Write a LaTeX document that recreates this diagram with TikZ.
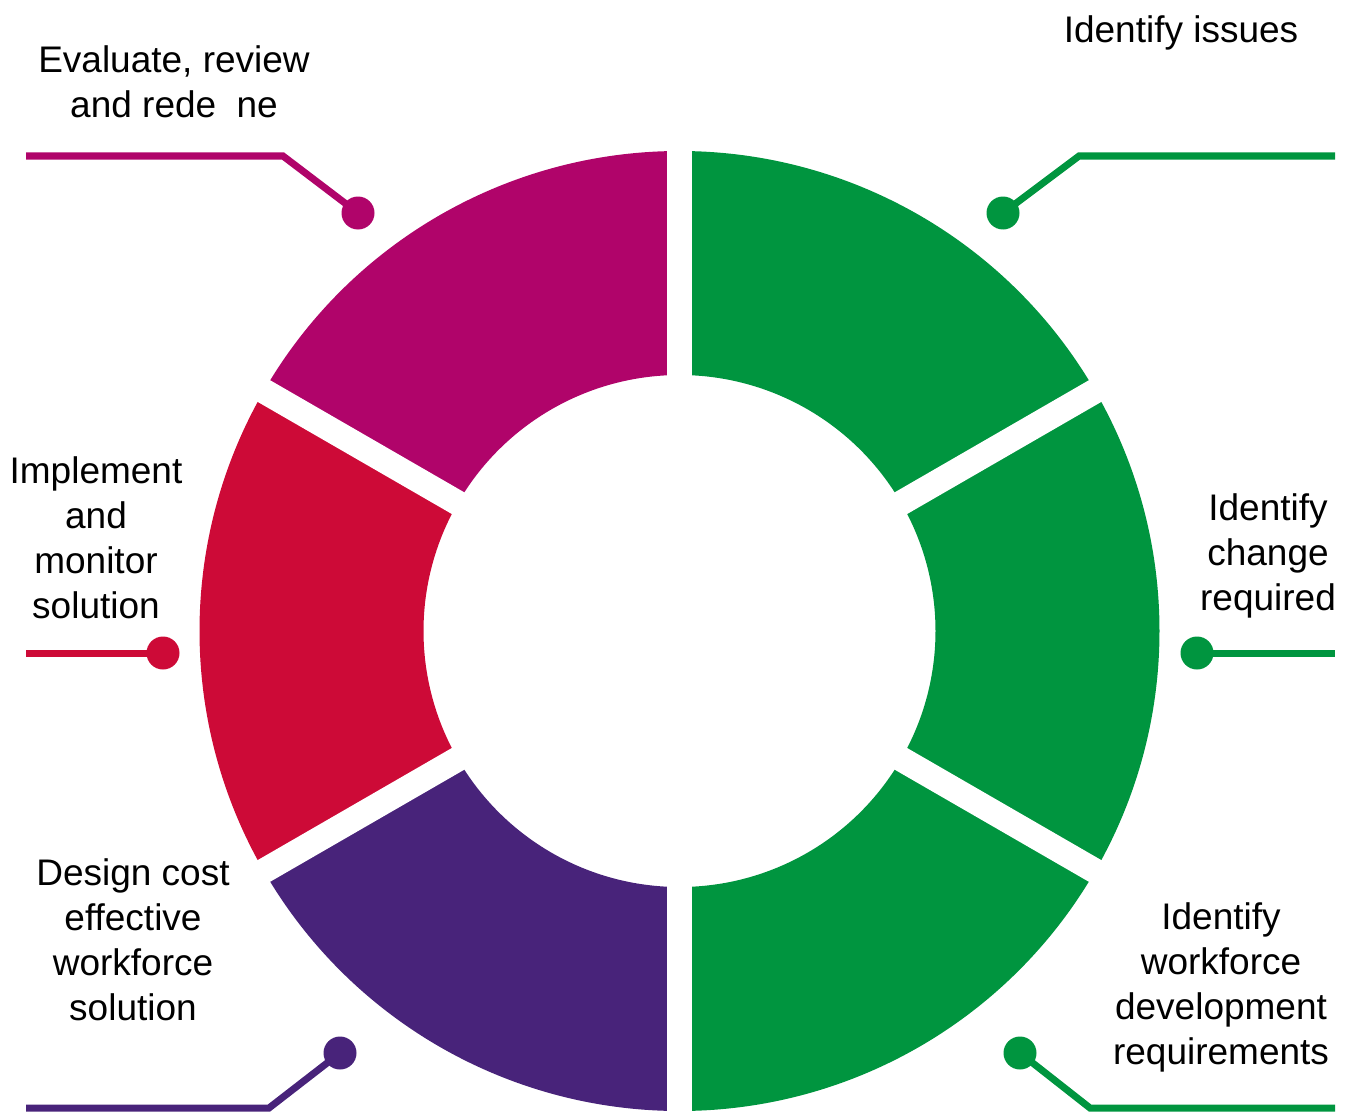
\documentclass[tikz,border=0pt]{standalone}
\usepackage{fontspec}
\setmainfont{Liberation Sans}
\usetikzlibrary{calc}
\definecolor{cgreen}{HTML}{00953F}
\definecolor{cmagenta}{HTML}{B0046A}
\definecolor{cred}{HTML}{CD0A37}
\definecolor{cpurple}{HTML}{48237A}
\tikzset{
  lbl/.style={font=\fontsize{37}{45}\selectfont, align=center, inner sep=0pt, text=black},
  dotnode/.style={circle, fill=#1, minimum size=33pt, inner sep=0pt},
  conn/.style={draw=#1, line width=7pt},
}
\newcommand{\ringseg}[3]{%
  \fill[#1] ($(C)+(#2:480)$) arc[start angle=#2, end angle=#3, radius=480]
    -- ($(C)+(#3:256)$) arc[start angle=#3, end angle=#2, radius=256] -- cycle;}
\begin{document}
\begin{tikzpicture}[x=1pt, y=-1pt]
\useasboundingbox (0,0) rectangle (1349,1113);
\coordinate (C) at (679.5,631);
% ring segments (image angles, clockwise)
\ringseg{cgreen}{-90}{-30}
\ringseg{cgreen}{-30}{30}
\ringseg{cgreen}{30}{90}
\ringseg{cpurple}{90}{150}
\ringseg{cred}{150}{210}
\ringseg{cmagenta}{210}{270}
% gaps
\foreach \a in {-90,-30,30,90,150,210}
  \draw[white, line width=25pt] (C) -- ($(C)+(\a:500)$);
% labels
\node[lbl] (t1) at (1181,33) {Identify issues};
\node[lbl] (t2) at (1268,556) {Identify\\change\\required};
\node[lbl] (t3) at (1221,987) {Identify\\workforce\\development\\requirements};
\node[lbl] (t4) at (133,940) {Design cost\\effective\\workforce\\solution};
\node[lbl] (t5) at (96,538) {Implement\\and\\monitor\\solution};
\node[lbl] (t6) at (174,82) {Evaluate, review\\and rede\hspace{0.55em}ne};
% dots
\node[dotnode=cgreen] (d1) at (1003,213) {};
\node[dotnode=cgreen] (d2) at (1197,653) {};
\node[dotnode=cgreen] (d3) at (1020,1053) {};
\node[dotnode=cpurple] (d4) at (340,1053) {};
\node[dotnode=cred] (d5) at (163,653) {};
\node[dotnode=cmagenta] (d6) at (358,213) {};
% connector ends
\coordinate (b1) at (1079,156); \coordinate (e1) at (1335,156);
\coordinate (e2) at (1335,653);
\coordinate (b3) at (1090,1108); \coordinate (e3) at (1335,1108);
\coordinate (b4) at (269,1108); \coordinate (e4) at (26,1108);
\coordinate (e5) at (26,653);
\coordinate (b6) at (283,156); \coordinate (e6) at (26,156);
\draw[conn=cgreen] (d1.center) -- (b1) -- (e1);
\draw[conn=cgreen] (d2.center) -- (e2);
\draw[conn=cgreen] (d3.center) -- (b3) -- (e3);
\draw[conn=cpurple] (d4.center) -- (b4) -- (e4);
\draw[conn=cred] (d5.center) -- (e5);
\draw[conn=cmagenta] (d6.center) -- (b6) -- (e6);
\end{tikzpicture}
\end{document}
